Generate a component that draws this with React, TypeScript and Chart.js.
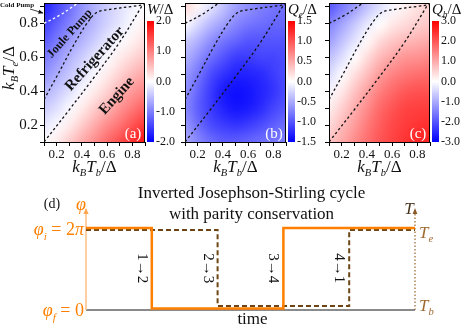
import React, { useEffect, useRef } from 'react';
import { Chart, registerables } from 'chart.js';

Chart.register(...registerables);

const SERIF = '"Liberation Serif", "Times New Roman", Times, serif';

// ---- heat-map grids (rows: T_e = 0.9 at top → 0.1 at bottom; columns: T_b = 0.1 → 0.9)
const GRID_X = [0.1, 0.2, 0.3, 0.4, 0.5, 0.6, 0.7, 0.8, 0.9];
const GRID_Y = [0.9, 0.8, 0.7, 0.6, 0.5, 0.4, 0.3, 0.2, 0.1];

const W_ROWS = [
  [-1.75, -1.45, -1.15, -0.85, -0.6, -0.4, -0.25, -0.1, 0.0],
  [-1.5, -1.25, -1.0, -0.75, -0.55, -0.35, -0.2, -0.05, 0.1],
  [-1.3, -1.05, -0.8, -0.6, -0.4, -0.2, -0.05, 0.1, 0.25],
  [-1.05, -0.85, -0.6, -0.4, -0.2, -0.05, 0.15, 0.3, 0.45],
  [-0.85, -0.65, -0.45, -0.25, -0.05, 0.15, 0.35, 0.55, 0.7],
  [-0.6, -0.45, -0.25, -0.05, 0.15, 0.35, 0.6, 0.8, 0.95],
  [-0.4, -0.25, -0.05, 0.15, 0.4, 0.6, 0.85, 1.05, 1.25],
  [-0.2, -0.05, 0.15, 0.4, 0.65, 0.9, 1.1, 1.35, 1.55],
  [0.0, 0.15, 0.4, 0.65, 0.9, 1.15, 1.4, 1.65, 1.85],
];

const QE_ROWS = [
  [0.25, 0.05, -0.15, -0.35, -0.55, -0.65, -0.75, -0.8, -0.85],
  [0.0, -0.2, -0.4, -0.55, -0.7, -0.8, -0.85, -0.9, -0.9],
  [-0.3, -0.45, -0.65, -0.8, -0.9, -1.0, -1.0, -1.0, -1.0],
  [-0.45, -0.65, -0.85, -1.0, -1.15, -1.15, -1.1, -1.1, -1.05],
  [-0.6, -0.8, -1.05, -1.2, -1.3, -1.3, -1.25, -1.15, -1.05],
  [-0.65, -0.9, -1.15, -1.35, -1.42, -1.38, -1.3, -1.2, -1.05],
  [-0.7, -0.95, -1.15, -1.3, -1.38, -1.35, -1.25, -1.1, -1.0],
  [-0.6, -0.85, -1.05, -1.15, -1.2, -1.15, -1.05, -0.95, -0.85],
  [-0.5, -0.7, -0.85, -0.95, -0.95, -0.9, -0.85, -0.8, -0.75],
];

const QB_ROWS = [
  [-2.0, -1.6, -1.2, -0.75, -0.4, -0.1, 0.15, 0.35, 0.5],
  [-1.5, -1.1, -0.7, -0.3, 0.0, 0.25, 0.4, 0.55, 0.65],
  [-1.15, -0.75, -0.35, 0.05, 0.4, 0.65, 0.8, 0.9, 1.0],
  [-0.75, -0.4, 0.0, 0.4, 0.8, 1.05, 1.25, 1.3, 1.4],
  [-0.45, -0.05, 0.35, 0.75, 1.15, 1.45, 1.6, 1.7, 1.75],
  [-0.1, 0.25, 0.7, 1.1, 1.5, 1.75, 1.95, 2.05, 2.05],
  [0.2, 0.55, 0.95, 1.35, 1.75, 2.0, 2.2, 2.25, 2.3],
  [0.45, 0.8, 1.15, 1.55, 1.9, 2.15, 2.3, 2.4, 2.45],
  [0.7, 1.0, 1.35, 1.7, 2.0, 2.2, 2.4, 2.55, 2.6],
];

const AXIS_TICKS = [0.1, 0.2, 0.3, 0.4, 0.5, 0.6, 0.7, 0.8, 0.9];
const AXIS_LABELS = [0.2, 0.4, 0.6, 0.8];
const X_RANGE = [0.1, 0.9];
const Y_RANGE = [0.1, 0.92];

const CB_W = [-2, -1, 0, 1, 2];
const CB_QE = [-1.5, -1, -0.5, 0, 0.5, 1, 1.5];
const CB_QB = [-3, -2, -1, 0, 1, 2, 3];

// ---- boundary contours (dashed)
const DIAG_X = [0.1, 0.3, 0.5, 0.7, 0.89];
const DIAG_Y = [0.1, 0.29, 0.485, 0.69, 0.92];
const JOULE_X = [0.1, 0.2, 0.33, 0.44, 0.52, 0.65, 0.8, 0.9];
const JOULE_Y = [0.35, 0.485, 0.665, 0.8, 0.865, 0.885, 0.9, 0.91];
const COLD_X = [0.1, 0.23, 0.33, 0.38];
const COLD_Y = [0.8, 0.85, 0.9, 0.925];

// ---- cycle panel (d)
const CYCLE_T = [0, 0.2, 0.4, 0.6, 0.8, 1];
const PHI_PI = [2, 0, 0, 2, 2, 2];
const TEMP = [1, 1, 0, 0, 1, 1];
const STROKES = ['1→2', '2→3', '3→4', '4→1'];
const STROKE_T = [0.2, 0.4, 0.6, 0.8];

const ORANGE = '#ff8000';
const BROWN = '#6e4514';

type Part = { t: string; i?: boolean; b?: boolean; sub?: boolean };

function fontOf(p: Part, size: number) {
  const s = p.sub ? size * 0.62 : size;
  return `${p.i ? 'italic ' : ''}${p.b ? 'bold ' : ''}${s}px ${SERIF}`;
}

function rich(ctx: CanvasRenderingContext2D, parts: Part[], x: number, y: number, size: number, color: string, align: string = 'left', rot: number = 0) {
  ctx.save();
  ctx.translate(x, y);
  if (rot) ctx.rotate(rot);
  ctx.fillStyle = color;
  ctx.textAlign = 'left';
  ctx.textBaseline = 'alphabetic';
  const ws = parts.map((p) => {
    ctx.font = fontOf(p, size);
    return ctx.measureText(p.t).width;
  });
  const total = ws.reduce((a, b) => a + b, 0);
  let cx = align === 'center' ? -total / 2 : align === 'right' ? -total : 0;
  const base = size * 0.34;
  parts.forEach((p, k) => {
    ctx.font = fontOf(p, size);
    ctx.fillText(p.t, cx, base + (p.sub ? size * 0.25 : 0));
    cx += ws[k];
  });
  ctx.restore();
}

function bwr(v: number, max: number) {
  const t = Math.max(-1, Math.min(1, v / max));
  if (t >= 0) {
    const c = Math.round(255 * (1 - t));
    return [255, c, c];
  }
  const c = Math.round(255 * (1 + t));
  return [c, c, 255];
}

function arrowHead(ctx: CanvasRenderingContext2D, x: number, y: number, angle: number, len: number, half: number, color: string) {
  ctx.save();
  ctx.translate(x, y);
  ctx.rotate(angle);
  ctx.fillStyle = color;
  ctx.beginPath();
  ctx.moveTo(0, 0);
  ctx.lineTo(-len, -half);
  ctx.lineTo(-len, half);
  ctx.closePath();
  ctx.fill();
  ctx.restore();
}

type Panel = {
  rows: number[][];
  max: number;
  cb: number[];
  title: Part[];
  tag: string;
  coldColor: string;
  showY: boolean;
  regions: boolean;
};

const PANEL_A: Panel = { rows: W_ROWS, max: 2, cb: CB_W, title: [{ t: 'W', i: true }, { t: '/Δ' }], tag: '(a)', coldColor: '#ffffff', showY: true, regions: true };
const PANEL_B: Panel = { rows: QE_ROWS, max: 1.5, cb: CB_QE, title: [{ t: 'Q', i: true }, { t: 'e', i: true, sub: true }, { t: '/Δ' }], tag: '(b)', coldColor: '#111111', showY: false, regions: false };
const PANEL_C: Panel = { rows: QB_ROWS, max: 3, cb: CB_QB, title: [{ t: 'Q', i: true }, { t: 'b', i: true, sub: true }, { t: '/Δ' }], tag: '(c)', coldColor: '#111111', showY: false, regions: false };

function heatPlugin(p: Panel) {
  return {
    id: 'heat',
    beforeDraw(chart: any) {
      const { ctx, chartArea: a, scales } = chart;
      const xs = scales.x;
      const ys = scales.y;
      const nx = GRID_X.length;
      const ny = GRID_Y.length;
      const img = document.createElement('canvas');
      img.width = nx;
      img.height = ny;
      const ictx = img.getContext('2d')!;
      const id = ictx.createImageData(nx, ny);
      p.rows.forEach((row, r) =>
        row.forEach((v, c) => {
          const [R, G, B] = bwr(v, p.max);
          const o = (r * nx + c) * 4;
          id.data[o] = R;
          id.data[o + 1] = G;
          id.data[o + 2] = B;
          id.data[o + 3] = 255;
        })
      );
      ictx.putImageData(id, 0, 0);
      const dx = xs.getPixelForValue(GRID_X[1]) - xs.getPixelForValue(GRID_X[0]);
      const dy = ys.getPixelForValue(GRID_Y[1]) - ys.getPixelForValue(GRID_Y[0]);
      const left = xs.getPixelForValue(GRID_X[0]) - dx / 2;
      const top = ys.getPixelForValue(GRID_Y[0]) - dy / 2;
      ctx.save();
      ctx.beginPath();
      ctx.rect(a.left, a.top, a.right - a.left, a.bottom - a.top);
      ctx.clip();
      ctx.imageSmoothingEnabled = true;
      ctx.imageSmoothingQuality = 'high';
      ctx.drawImage(img, left, top, dx * nx, dy * ny);
      ctx.restore();

      // colour bar
      const cb = scales.cb;
      const y0 = cb.getPixelForValue(p.cb[p.cb.length - 1]);
      const y1 = cb.getPixelForValue(p.cb[0]);
      const g = ctx.createLinearGradient(0, y0, 0, y1);
      g.addColorStop(0, 'rgb(255,0,0)');
      g.addColorStop(0.5, 'rgb(255,255,255)');
      g.addColorStop(1, 'rgb(0,0,255)');
      ctx.save();
      ctx.fillStyle = g;
      ctx.fillRect(a.right + 2, y0, 7, y1 - y0);
      ctx.restore();
    },
    afterDraw(chart: any) {
      const { ctx, chartArea: a, scales } = chart;
      ctx.save();
      ctx.strokeStyle = '#000';
      ctx.lineWidth = 1;
      ctx.beginPath();
      ctx.moveTo(a.left, a.top + 0.5);
      ctx.lineTo(a.right - 0.5, a.top + 0.5);
      ctx.lineTo(a.right - 0.5, a.bottom);
      ctx.stroke();
      ctx.restore();

      const cx = (a.left + a.right) / 2;
      rich(ctx, [{ t: 'k', i: true }, { t: 'B', i: true, sub: true }, { t: 'T', i: true }, { t: 'b', i: true, sub: true }, { t: '/Δ' }], cx, 166, 17, '#111', 'center');
      if (p.showY) {
        rich(ctx, [{ t: 'k', i: true }, { t: 'B', i: true, sub: true }, { t: 'T', i: true }, { t: 'e', i: true, sub: true }, { t: '/Δ' }], 8, 68, 17, '#111', 'center', -Math.PI / 2);
      }
      rich(ctx, p.title, a.right + 2, 9, 15, '#111', 'left');
      rich(ctx, [{ t: p.tag }], scales.x.getPixelForValue(0.805), scales.y.getPixelForValue(0.153), 15, '#ffffff', 'center');

      if (p.regions) {
        const ang = -48 * Math.PI / 180;
        rich(ctx, [{ t: 'Joule Pump', b: true }], scales.x.getPixelForValue(0.298), scales.y.getPixelForValue(0.743), 12, '#111', 'center', ang);
        rich(ctx, [{ t: 'Refrigerator', b: true }], scales.x.getPixelForValue(0.496), scales.y.getPixelForValue(0.595), 15, '#111', 'center', ang);
        rich(ctx, [{ t: 'Engine', b: true }], scales.x.getPixelForValue(0.67), scales.y.getPixelForValue(0.377), 15, '#111', 'center', ang);
        rich(ctx, [{ t: 'Cold Pump', b: true }], 0, 5, 7, '#111', 'left');
        ctx.save();
        ctx.strokeStyle = '#111';
        ctx.lineWidth = 0.8;
        ctx.beginPath();
        ctx.moveTo(30, 9);
        ctx.lineTo(a.left - 1, 13);
        ctx.stroke();
        ctx.restore();
        arrowHead(ctx, a.left - 0.5, 13.2, Math.atan2(4, a.left - 31), 5, 2, '#111');
      }
    },
  };
}

function heatConfig(p: Panel): any {
  const cbMin = p.cb[0];
  const cbTop = p.cb[p.cb.length - 1];
  const cbMax = cbMin + (cbTop - cbMin) * (139 / 121);
  const pts = (xs: number[], ys: number[]) => xs.map((x, i) => ({ x, y: ys[i] }));
  const dashed = (data: any[], color: string) => ({
    data,
    borderColor: color,
    borderWidth: 1.3,
    borderDash: [2.5, 2.5],
    pointRadius: 0,
    tension: 0.35,
    fill: false,
    xAxisID: 'x',
    yAxisID: 'y',
  });
  const isLabeled = (v: number) => AXIS_LABELS.some((l) => Math.abs(l - v) < 1e-6);
  return {
    type: 'line',
    data: {
      datasets: [
        dashed(pts(DIAG_X, DIAG_Y), '#111'),
        dashed(pts(JOULE_X, JOULE_Y), '#111'),
        dashed(pts(COLD_X, COLD_Y), p.coldColor),
      ],
    },
    options: {
      responsive: false,
      animation: false,
      events: [],
      layout: { padding: { top: 3, left: 0, right: 0, bottom: 0 } },
      plugins: { legend: { display: false }, tooltip: { enabled: false }, title: { display: false } },
      scales: {
        x: {
          type: 'linear',
          position: 'bottom',
          min: X_RANGE[0],
          max: X_RANGE[1],
          afterBuildTicks: (s: any) => {
            s.ticks = AXIS_TICKS.map((v) => ({ value: v }));
          },
          afterFit: (s: any) => {
            s.height = 38;
            s.paddingLeft = 0;
            s.paddingRight = 0;
          },
          ticks: {
            autoSkip: false,
            maxRotation: 0,
            minRotation: 0,
            padding: 1,
            color: '#111',
            font: { family: SERIF, size: 13 },
            callback: (v: any) => (isLabeled(Number(v)) ? Number(v).toFixed(1) : ''),
          },
          grid: { drawOnChartArea: false, tickLength: 4, color: '#000', lineWidth: 1 },
          border: { color: '#000', width: 1 },
        },
        y: {
          type: 'linear',
          position: 'left',
          min: Y_RANGE[0],
          max: Y_RANGE[1],
          afterBuildTicks: (s: any) => {
            s.ticks = AXIS_TICKS.map((v) => ({ value: v }));
          },
          afterFit: (s: any) => {
            s.width = 44;
            s.paddingTop = 0;
            s.paddingBottom = 0;
          },
          ticks: {
            autoSkip: false,
            padding: 2,
            color: '#111',
            font: { family: SERIF, size: 15 },
            callback: (v: any) => (p.showY && isLabeled(Number(v)) ? Number(v).toFixed(1) : ''),
          },
          grid: { drawOnChartArea: false, tickLength: 4, color: '#000', lineWidth: 1 },
          border: { color: '#000', width: 1 },
        },
        cb: {
          type: 'linear',
          position: 'right',
          min: cbMin,
          max: cbMax,
          afterBuildTicks: (s: any) => {
            s.ticks = p.cb.map((v) => ({ value: v }));
          },
          afterFit: (s: any) => {
            s.width = 33;
            s.paddingTop = 0;
            s.paddingBottom = 0;
          },
          grid: { display: false, drawTicks: false, drawOnChartArea: false },
          border: { display: false },
          ticks: {
            autoSkip: false,
            padding: 11,
            color: '#111',
            font: { family: SERIF, size: 12 },
            callback: (v: any) => Number(v).toFixed(1),
          },
        },
      },
    },
    plugins: [heatPlugin(p)],
  };
}

const cyclePlugin = {
  id: 'cycle',
  beforeDatasetsDraw(chart: any) {
    const { ctx, chartArea: a, scales } = chart;
    const x0 = scales.x.getPixelForValue(0);
    const x1 = scales.x.getPixelForValue(1);
    ctx.save();
    ctx.lineCap = 'butt';
    ctx.strokeStyle = '#8a8a8a';
    ctx.lineWidth = 2;
    ctx.beginPath();
    ctx.moveTo(x0, a.bottom);
    ctx.lineTo(x1, a.bottom);
    ctx.stroke();

    ctx.strokeStyle = '#ffc48a';
    ctx.lineWidth = 1.6;
    ctx.beginPath();
    ctx.moveTo(x0, a.bottom);
    ctx.lineTo(x0, a.top + 4);
    ctx.stroke();

    ctx.strokeStyle = '#a0703a';
    ctx.lineWidth = 1.3;
    ctx.setLineDash([1.5, 2]);
    ctx.beginPath();
    ctx.moveTo(x1, a.bottom);
    ctx.lineTo(x1, a.top + 4);
    ctx.stroke();
    ctx.setLineDash([]);
    ctx.restore();
    arrowHead(ctx, x0, a.top, -Math.PI / 2, 6, 2.6, '#ffa64d');
    arrowHead(ctx, x1, a.top, -Math.PI / 2, 6, 2.4, '#8a5a2a');
  },
  afterDraw(chart: any) {
    const { ctx, chartArea: a, scales } = chart;
    const x0 = scales.x.getPixelForValue(0);
    const x1 = scales.x.getPixelForValue(1);
    const yp = scales.yPhi;
    const yt = scales.yT;
    const mid = (a.left + a.right) / 2;
    rich(ctx, [{ t: 'Inverted Josephson-Stirling cycle' }], mid + 1, 12, 17, '#111', 'center');
    rich(ctx, [{ t: 'with parity conservation' }], mid + 1, 33, 17, '#111', 'center');
    rich(ctx, [{ t: '(d)' }], 52, 23, 14, '#111', 'center');
    rich(ctx, [{ t: 'φ', i: true }], x0 - 5, 24, 18, ORANGE, 'center');
    rich(ctx, [{ t: 'φ', i: true }, { t: 'i', i: true, sub: true }, { t: ' = 2' }, { t: 'π', i: true }], x0 - 2, yp.getPixelForValue(2) + 1, 18, ORANGE, 'right');
    rich(ctx, [{ t: 'φ', i: true }, { t: 'f', i: true, sub: true }, { t: ' = 0' }], x0 - 2, a.bottom, 18, ORANGE, 'right');
    rich(ctx, [{ t: 'T', i: true }], x1 - 6, 28, 17, '#4a3520', 'center');
    rich(ctx, [{ t: 'T', i: true }, { t: 'e', i: true, sub: true }], x1 + 4, yt.getPixelForValue(1) + 2, 17, '#a06a30', 'left');
    rich(ctx, [{ t: 'T', i: true }, { t: 'b', i: true, sub: true }], x1 + 4, yt.getPixelForValue(0) - 1, 17, '#a06a30', 'left');
    const ymid = (yp.getPixelForValue(0) + yp.getPixelForValue(2)) / 2;
    STROKES.forEach((s, k) => {
      rich(ctx, [{ t: s }], scales.x.getPixelForValue(STROKE_T[k]) - 9, ymid, 15, '#111', 'center', Math.PI / 2);
    });
    rich(ctx, [{ t: 'time' }], mid + 2, 138, 17, '#111', 'center');
  },
};

function cycleConfig(): any {
  return {
    type: 'line',
    data: {
      datasets: [
        {
          label: 'phi',
          data: CYCLE_T.map((t, i) => ({ x: t, y: PHI_PI[i] })),
          stepped: 'before',
          borderColor: ORANGE,
          borderWidth: 2.5,
          pointRadius: 0,
          fill: false,
          xAxisID: 'x',
          yAxisID: 'yPhi',
        },
        {
          label: 'T',
          data: CYCLE_T.map((t, i) => ({ x: t, y: TEMP[i] })),
          stepped: 'before',
          borderColor: BROWN,
          borderWidth: 2,
          borderDash: [5, 3],
          pointRadius: 0,
          fill: false,
          xAxisID: 'x',
          yAxisID: 'yT',
        },
      ],
    },
    options: {
      responsive: false,
      animation: false,
      events: [],
      layout: { padding: { left: 86, right: 48, top: 28, bottom: 15 } },
      plugins: { legend: { display: false }, tooltip: { enabled: false } },
      scales: {
        x: { type: 'linear', display: false, min: 0, max: 1 },
        yPhi: { type: 'linear', display: false, min: -0.037, max: 2.498 },
        yT: { type: 'linear', display: false, min: -0.053, max: 1.289 },
      },
    },
    plugins: [cyclePlugin],
  };
}

function ChartCanvas(props: { make: () => any; left: number; top: number; width: number; height: number }) {
  const ref = useRef<HTMLCanvasElement>(null);
  useEffect(() => {
    const chart = new Chart(ref.current as HTMLCanvasElement, props.make());
    return () => chart.destroy();
  }, []);
  return (
    <canvas
      ref={ref}
      width={props.width}
      height={props.height}
      style={{ position: 'absolute', left: props.left, top: props.top, width: props.width, height: props.height }}
    />
  );
}

export default function App() {
  return (
    <div style={{ position: 'fixed', left: 0, top: 0, width: 463, height: 325, background: '#ffffff', overflow: 'hidden' }}>
      <ChartCanvas make={() => heatConfig(PANEL_A)} left={0} top={0} width={178} height={180} />
      <ChartCanvas make={() => heatConfig(PANEL_B)} left={141} top={0} width={178} height={180} />
      <ChartCanvas make={() => heatConfig(PANEL_C)} left={285} top={0} width={178} height={180} />
      <ChartCanvas make={cycleConfig} left={0} top={180} width={463} height={145} />
    </div>
  );
}
